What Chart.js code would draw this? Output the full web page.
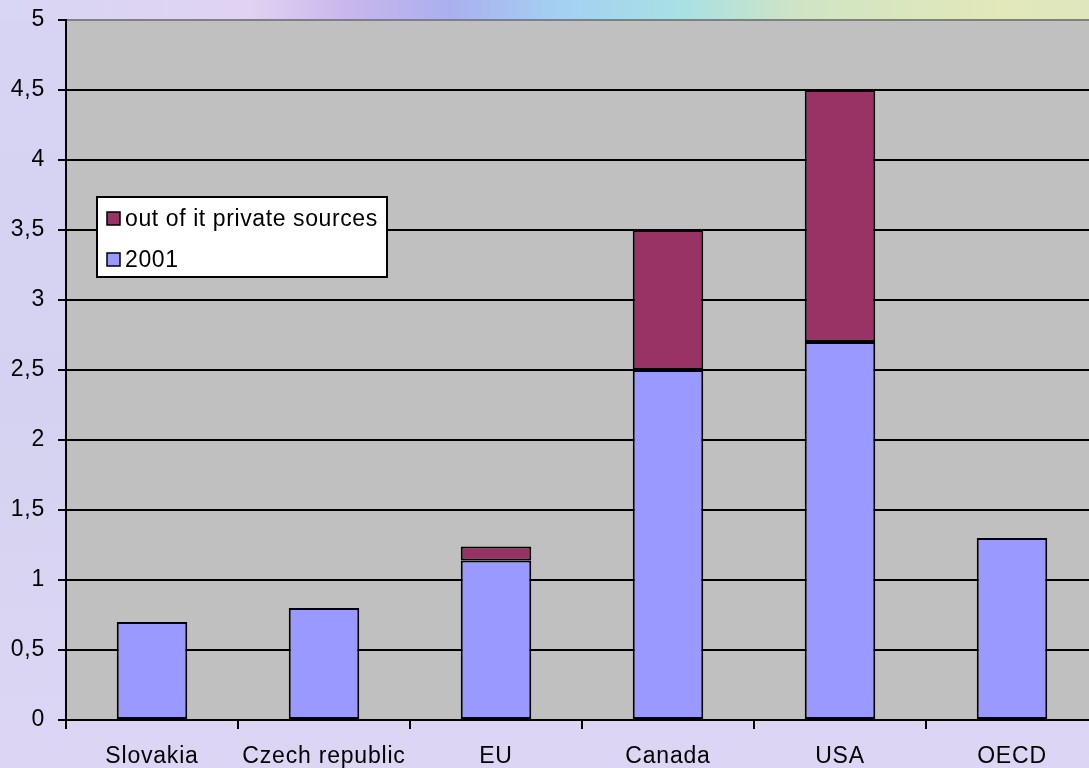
<!DOCTYPE html>
<html>
<head>
<meta charset="utf-8">
<script src="https://cdn.jsdelivr.net/npm/chart.js@4/dist/chart.umd.min.js"></script>
<style>
html,body{margin:0;padding:0;width:1089px;height:768px;overflow:hidden;}
body{
  background:
    linear-gradient(to right,#d8d6f4 0px,#e0d2f2 250px,#c8b6ec 350px,#aab0ee 450px,#a4d0f2 560px,#a8e0e4 680px,#d0e4c4 800px,#e2e8b8 1000px,#dfe6be 1089px) top left/1089px 20px no-repeat,
    linear-gradient(to bottom,#d6d4f2 0px,#d4d2f0 400px,#dcd6f4 768px);
}
#wrap{position:absolute;left:0;top:0;width:1100px;height:768px;}
</style>
</head>
<body>
<div id="wrap"><canvas id="c" width="1100" height="768"></canvas></div>
<script>
const categories = ["Slovakia","Czech republic","EU","Canada","USA","OECD"];
const values2001 = [0.7, 0.8, 1.14, 2.5, 2.7, 1.3];
const valuesPrivate = [null, null, 0.1, 1.0, 1.8, null];
const seriesNames = ["2001","out of it private sources"];
const yTicks = [0,0.5,1,1.5,2,2.5,3,3.5,4,4.5,5];

const FONT = "'Liberation Sans', Arial, sans-serif";
const FS = 23;

const plotBg = {
  id:'plotBg',
  beforeDraw(chart){
    const {ctx, chartArea:a} = chart;
    ctx.letterSpacing = '0.8px';
    ctx.save();
    ctx.fillStyle = '#c0c0c0';
    ctx.fillRect(a.left, a.top, a.right - a.left, a.bottom - a.top);
    ctx.restore();
  }
};

const boxLegend = {
  id:'boxLegend',
  afterDraw(chart){
    const ctx = chart.ctx;
    const ds = chart.data.datasets.slice().reverse();
    const x = 97, y = 197, w = 290, h = 80;
    ctx.save();
    ctx.fillStyle = '#ffffff';
    ctx.fillRect(x, y, w, h);
    ctx.lineWidth = 2;
    ctx.strokeStyle = '#000000';
    ctx.strokeRect(x, y, w, h);
    ctx.font = FS + 'px ' + FONT;
    ctx.letterSpacing = '0.6px';
    ctx.textBaseline = 'middle';
    ds.forEach((d, i) => {
      const cy = 219 + i * 41;
      ctx.fillStyle = d.backgroundColor;
      ctx.fillRect(107, cy - 7, 13, 13);
      ctx.lineWidth = 1.5;
      ctx.strokeRect(107, cy - 7, 13, 13);
      ctx.fillStyle = '#000';
      ctx.fillText(d.label, 125, cy + 1);
    });
    ctx.restore();
  }
};

new Chart(document.getElementById('c'), {
  type:'bar',
  data:{
    labels: categories,
    datasets:[
      {label: seriesNames[0], data: values2001, backgroundColor:'#9999ff', borderColor:'#000', borderWidth:2, borderSkipped:false, barPercentage:0.41, categoryPercentage:1},
      {label: seriesNames[1], data: valuesPrivate, backgroundColor:'#993366', borderColor:'#000', borderWidth:2, borderSkipped:false, barPercentage:0.41, categoryPercentage:1}
    ]
  },
  options:{
    responsive:false,
    animation:false,
    layout:{padding:{top:20,right:2,left:0,bottom:0}},
    plugins:{legend:{display:false}, tooltip:{enabled:false}},
    scales:{
      x:{
        stacked:true,
        offset:true,
        grid:{offset:true, drawOnChartArea:false, drawTicks:true, tickLength:9, color:'#000', lineWidth:2},
        border:{display:true, color:'#000', width:2},
        ticks:{color:'#000', font:{family:FONT, size:FS}, padding:14, maxRotation:0, autoSkip:false},
        afterFit(s){ s.height = 48; s.paddingLeft = 0; s.paddingRight = 0; }
      },
      y:{
        stacked:true,
        min:0, max:5,
        afterBuildTicks(s){ s.ticks = yTicks.map(v=>({value:v})); },
        grid:{
          color:(c)=> c.tick && c.tick.value === 5 ? '#808080' : '#000',
          tickColor:'#000',
          lineWidth:2, tickLength:8
        },
        border:{display:true, color:'#000', width:2},
        ticks:{color:'#000', font:{family:FONT, size:FS}, padding:13,
          callback:(v)=> String(v).replace('.', ',')},
        afterFit(s){ s.width = 66; s.paddingTop = 0; s.paddingBottom = 0; }
      }
    }
  },
  plugins:[plotBg, boxLegend]
});
</script>
</body>
</html>
